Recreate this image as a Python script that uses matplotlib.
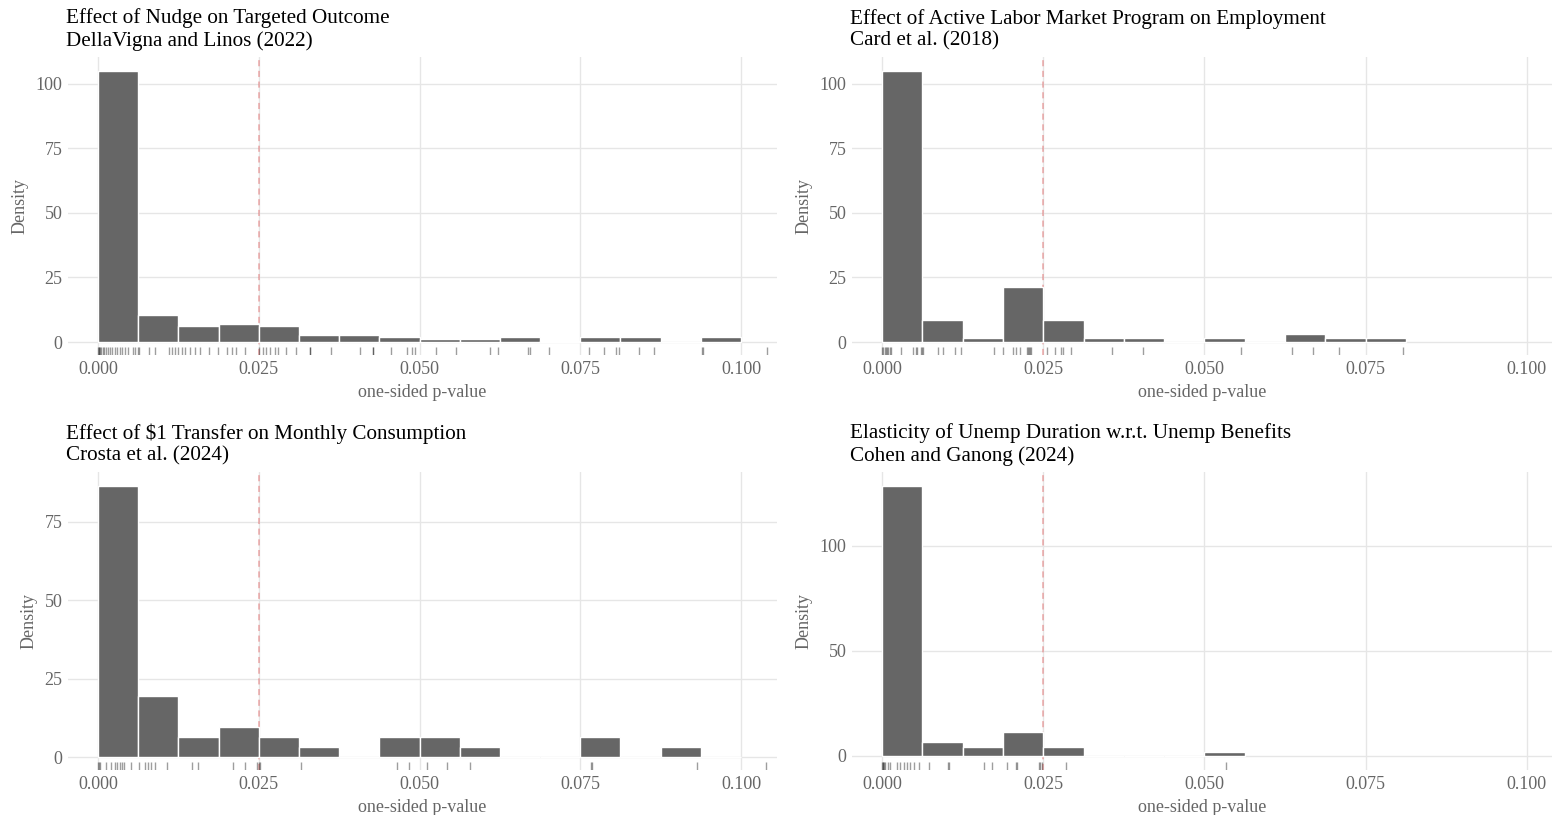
import matplotlib
matplotlib.use("Agg")
import matplotlib.pyplot as plt
import matplotlib.transforms as mtransforms
import numpy as np

plt.rcParams['font.family'] = ['Liberation Serif', 'DejaVu Serif']

# histogram bins (width 0.00625, starting at 0)
BINWIDTH = 0.00625
CUTOFF = 0.025

titles = [
    "Effect of Nudge on Targeted Outcome\nDellaVigna and Linos (2022)",
    "Effect of Active Labor Market Program on Employment\nCard et al. (2018)",
    "Effect of $1 Transfer on Monthly Consumption\nCrosta et al. (2024)",
    "Elasticity of Unemp Duration w.r.t. Unemp Benefits\nCohen and Ganong (2024)",
]

# bar heights (density) per bin
nudge_density = [105.0, 10.3, 6.1, 7.0, 6.1, 2.9, 2.9, 2.0, 1.0, 1.0, 2.0, 0.3, 2.0, 2.0, 0.0, 2.0]
almp_density = [105.0, 8.5, 1.4, 21.3, 8.5, 1.4, 1.4, 0.0, 1.4, 0.0, 3.1, 1.4, 1.4]
transfer_density = [86.4, 19.5, 6.3, 9.6, 6.3, 3.1, 0.0, 6.3, 6.3, 3.1, 0.0, 0.0, 6.3, 0.0, 3.1, 0.0]
ui_density = [128.5, 6.5, 4.2, 11.3, 4.2, 0.0, 0.0, 0.0, 1.8]

# individual p-values shown as rug ticks
nudge_rug = [0.0, 0.0001, 0.0002, 0.0003, 0.0005, 0.0007, 0.0009, 0.0012, 0.0015, 0.0019,
             0.0022, 0.0026, 0.003, 0.0034, 0.0038, 0.0042, 0.0046, 0.0054, 0.0058, 0.0062,
             0.0064, 0.0079, 0.0089, 0.011, 0.0115, 0.012, 0.0125, 0.013, 0.0135, 0.0143,
             0.0151, 0.0159, 0.0172, 0.0187, 0.02, 0.0208, 0.0215, 0.0228, 0.025, 0.0257,
             0.0262, 0.0267, 0.0275, 0.028, 0.0293, 0.0308, 0.0329, 0.033, 0.0363, 0.0407,
             0.0427, 0.0428, 0.0456, 0.0481, 0.0488, 0.0493, 0.0526, 0.0557, 0.061, 0.0622,
             0.0669, 0.0672, 0.0702, 0.0763, 0.0787, 0.0805, 0.081, 0.0841, 0.0865, 0.0939,
             0.0941, 0.104]
almp_rug = [0.0, 0.0002, 0.0004, 0.0006, 0.0008, 0.001, 0.0012, 0.0014, 0.0029, 0.0048,
            0.0052, 0.0054, 0.0061, 0.0062, 0.0063, 0.0087, 0.0095, 0.0113, 0.0122, 0.0173,
            0.0188, 0.0203, 0.0208, 0.0214, 0.0225, 0.0227, 0.0228, 0.023, 0.0231, 0.0256,
            0.0268, 0.0277, 0.028, 0.0293, 0.0356, 0.0405, 0.0556, 0.0636, 0.0668, 0.0708,
            0.0808]
transfer_rug = [0.0, 0.0001, 0.0003, 0.0013, 0.002, 0.0027, 0.003, 0.0034, 0.0038, 0.0041,
                0.0052, 0.0063, 0.0073, 0.0078, 0.0082, 0.0088, 0.0107, 0.0146, 0.0155, 0.021,
                0.0229, 0.0247, 0.025, 0.0252, 0.0316, 0.0465, 0.0483, 0.0512, 0.0542, 0.0579,
                0.0766, 0.0769, 0.0932, 0.1039]
ui_rug = [0.0, 0.0001, 0.0002, 0.0003, 0.0005, 0.001, 0.0013, 0.0024, 0.0028, 0.0034,
          0.0039, 0.0044, 0.0049, 0.0057, 0.0073, 0.0102, 0.0104, 0.0158, 0.017, 0.0194,
          0.0208, 0.0209, 0.0243, 0.0245, 0.0248, 0.0286, 0.0534]

xticks = [0.0, 0.025, 0.05, 0.075, 0.1]
yticks = [[0, 25, 50, 75, 100], [0, 25, 50, 75, 100], [0, 25, 50, 75], [0, 50, 100]]
ylims = [(-5.0, 110.3), (-5.0, 110.3), (-4.1, 90.9), (-6.7, 135.0)]
xlims = [(-0.00467, 0.1056), (-0.00465, 0.1039), (-0.00467, 0.1056), (-0.00465, 0.1039)]

W, H = 1552, 815
# axes rectangles in pixels: left, top, right, bottom
boxes = [(68, 57, 777, 355), (852, 57, 1552, 355), (68, 472, 777, 770), (852, 472, 1552, 770)]

densities = [nudge_density, almp_density, transfer_density, ui_density]
rugs = [nudge_rug, almp_rug, transfer_rug, ui_rug]

GRID = '#e6e6e6'
TXT = '#666666'

fig = plt.figure(figsize=(W / 100, H / 100), dpi=100)

for i in range(4):
    l, t, r, b = boxes[i]
    ax = fig.add_axes([l / W, 1 - b / H, (r - l) / W, (b - t) / H])
    for s in ax.spines.values():
        s.set_visible(False)
    ax.set_xlim(*xlims[i])
    ax.set_ylim(*ylims[i])
    ax.set_xticks(xticks)
    ax.set_xticklabels([f"{v:.3f}" for v in xticks])
    ax.set_yticks(yticks[i])
    ax.tick_params(length=0, labelsize=13, colors=TXT, pad=4)
    ax.grid(True, color=GRID, linewidth=1.0)
    ax.set_axisbelow(True)

    # cutoff line sits under the bars
    ax.axvline(CUTOFF, color='#e06666', alpha=0.55, linestyle=(0, (4, 3)),
               linewidth=1.1, zorder=1)

    dens = densities[i]
    left = np.arange(len(dens)) * BINWIDTH
    ax.bar(left, dens, width=BINWIDTH, align='edge', color='#666666',
           edgecolor='white', linewidth=1.0, zorder=2)

    trans = mtransforms.blended_transform_factory(ax.transData, ax.transAxes)
    ax.vlines(rugs[i], 0, 0.027, transform=trans, color='black', alpha=0.38,
              linewidth=1.0, zorder=3)

    ax.set_xlabel("one-sided p-value", fontsize=13, color=TXT, labelpad=5)
    ax.set_ylabel("Density", fontsize=13, color=TXT, labelpad=5)
    ax.set_title(titles[i], loc='left', fontsize=15.2, color='black',
                 pad=8, linespacing=1.2, x=-0.003)

fig.savefig("out.png", dpi=100)
